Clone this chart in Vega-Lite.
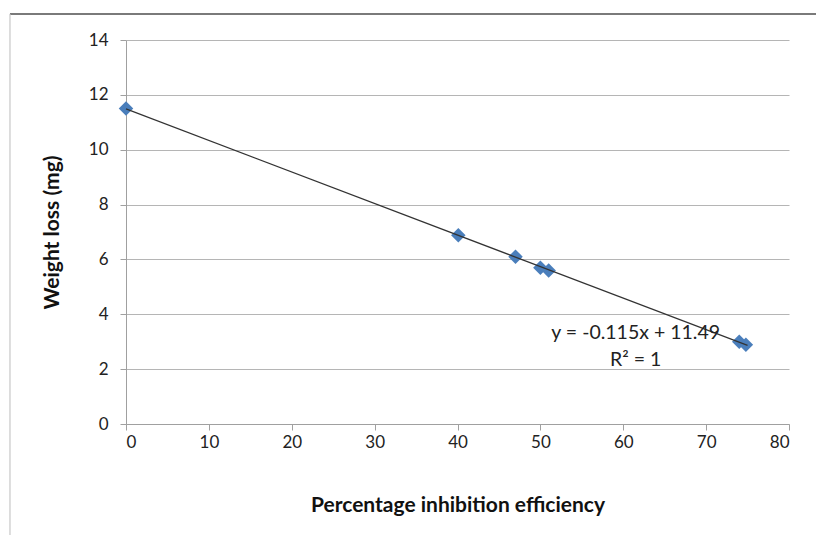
{
  "$schema": "https://vega.github.io/schema/vega-lite/v6.json",
  "width": 663,
  "height": 384,
  "autosize": {"type": "none"},
  "padding": {"left": 126, "top": 40, "right": 27, "bottom": 111},
  "background": "white",
  "config": {
    "view": {"stroke": null},
    "font": "Lato",
    "axis": {"labelFont": "Lato", "titleFont": "Lato"}
  },
  "datasets": {
    "pts": [
      {"pie": 0, "wl": 11.5},
      {"pie": 40.1, "wl": 6.88},
      {"pie": 47, "wl": 6.1},
      {"pie": 50, "wl": 5.7},
      {"pie": 51, "wl": 5.6},
      {"pie": 74, "wl": 3.0},
      {"pie": 74.8, "wl": 2.89}
    ],
    "fit": [
      {"pie": 0, "wl": 11.49},
      {"pie": 75, "wl": 2.865}
    ],
    "lab": [
      {"pie": 61.5, "wl": 3.3, "t": "y = -0.115x + 11.49"},
      {"pie": 61.5, "wl": 2.33, "t": "R² = 1"}
    ],
    "frame": [
      {"x1": -14.0, "x2": 90, "y1": 14.95, "y2": 14.95, "part": "top"},
      {"x1": -14.0, "x2": -14.0, "y1": 14.95, "y2": -5, "part": "left"}
    ]
  },
  "layer": [
    {
      "data": {"name": "pts"},
      "mark": {"type": "point", "shape": "diamond", "filled": true, "size": 210, "color": "#4a7ebb", "opacity": 1},
      "encoding": {
        "x": {
          "field": "pie", "type": "quantitative",
          "scale": {"domain": [0, 80], "nice": false, "zero": false},
          "axis": {
            "title": "Percentage inhibition efficiency",
            "values": [0, 10, 20, 30, 40, 50, 60, 70, 80],
            "grid": false,
            "domainColor": "#a0a0a0",
            "tickColor": "#a0a0a0",
            "tickSize": 6,
            "labelFontSize": 17,
            "labelColor": "#222",
            "labelPadding": 4,
            "titleFontSize": 21,
            "titleFontWeight": "bold",
            "titleColor": "#111",
            "titlePadding": 44
          }
        },
        "y": {
          "field": "wl", "type": "quantitative",
          "scale": {"domain": [0, 14], "nice": false},
          "axis": {
            "title": "Weight loss (mg)",
            "values": [0, 2, 4, 6, 8, 10, 12, 14],
            "grid": true,
            "gridColor": "#b5b5b5",
            "domainColor": "#a0a0a0",
            "tickColor": "#a0a0a0",
            "tickSize": 6,
            "labelFontSize": 17,
            "labelColor": "#222",
            "labelPadding": 12,
            "titleFontSize": 21,
            "titleFontWeight": "bold",
            "titleColor": "#111",
            "titlePadding": 26
          }
        }
      }
    },
    {
      "data": {"name": "fit"},
      "mark": {"type": "line", "color": "#333333", "strokeWidth": 1.2},
      "encoding": {
        "x": {"field": "pie", "type": "quantitative"},
        "y": {"field": "wl", "type": "quantitative"}
      }
    },
    {
      "data": {"name": "lab"},
      "mark": {"type": "text", "fontSize": 19.5, "color": "#222", "align": "center", "baseline": "middle", "font": "Lato"},
      "encoding": {
        "x": {"field": "pie", "type": "quantitative"},
        "y": {"field": "wl", "type": "quantitative"},
        "text": {"field": "t"}
      }
    },
    {
      "data": {"name": "frame"},
      "mark": {"type": "rule", "clip": false},
      "encoding": {
        "x": {"field": "x1", "type": "quantitative"},
        "x2": {"field": "x2"},
        "y": {"field": "y1", "type": "quantitative"},
        "y2": {"field": "y2"},
        "color": {"field": "part", "type": "nominal", "scale": {"domain": ["top", "left"], "range": ["#7a7a7a", "#c8c8c8"]}, "legend": null},
        "strokeWidth": {"field": "part", "type": "nominal", "scale": {"domain": ["top", "left"], "range": [2, 1.2]}, "legend": null}
      }
    }
  ]
}
